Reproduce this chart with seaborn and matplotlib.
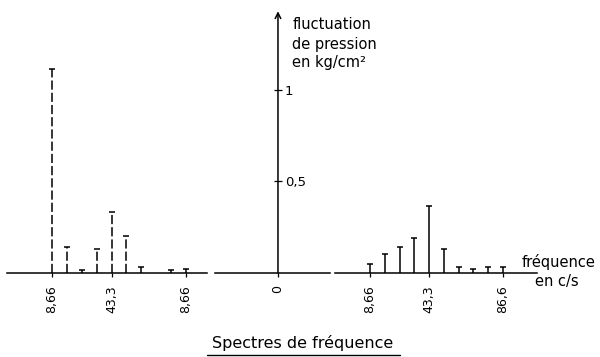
import matplotlib
matplotlib.use("Agg")
import matplotlib.pyplot as plt
import seaborn as sns
import pandas as pd
from matplotlib.lines import Line2D

sns.set_style("white")
plt.rcParams['font.family'] = ['DejaVu Sans']
plt.rcParams['text.color'] = 'black'

# ---- data ----
left_freq = [8.66, 17.32, 25.98, 34.64, 43.3, 51.96, 60.62, 77.94, 86.6]
left_amp = [1.115, 0.143, 0.016, 0.13, 0.335, 0.2, 0.03, 0.015, 0.02]
left_ticks = [8.66, 43.3, 86.6]
left_ticklabels = ["8,66", "43,3", "8,66"]

right_freq = [8.66, 17.32, 25.98, 34.64, 43.3, 51.96, 60.62, 69.28, 77.94, 86.6]
right_amp = [0.05, 0.104, 0.143, 0.19, 0.368, 0.13, 0.03, 0.02, 0.03, 0.035]
right_ticks = [8.66, 43.3, 86.6]
right_ticklabels = ["8,66", "43,3", "86,6"]

y_ticks = [0.5, 1.0]
y_ticklabels = ["0,5", "1"]
center_ticks = [0]
center_ticklabels = ["0"]

fig = plt.figure(figsize=(6, 3.57), dpi=100)
ybot, yh = 0.2097, 0.769
ylim = (-0.05, 1.45)
LW = 1.1


def spectrum_axes(rect, xlim, bounds, freqs, amps, ticks, labels, ls):
    ax = fig.add_axes(rect)
    ax.set_facecolor('none')
    ax.set_xlim(*xlim)
    ax.set_ylim(*ylim)
    for s in ['top', 'right', 'left']:
        ax.spines[s].set_visible(False)
    sp = ax.spines['bottom']
    sp.set_position(('data', 0))
    sp.set_bounds(*bounds)
    sp.set_linewidth(LW)
    sp.set_color('black')
    ax.set_yticks([])
    ax.vlines(freqs, 0, amps, colors='black', linewidth=LW, linestyles=ls)
    df = pd.DataFrame({'f': freqs, 'a': amps})
    sns.scatterplot(data=df, x='f', y='a', marker='_', s=20, color='black',
                    linewidth=LW, ax=ax, legend=False)
    ax.set_xlabel('')
    ax.set_ylabel('')
    ax.set_xticks(ticks)
    ax.set_xticklabels(labels, rotation=90, fontsize=9, color='black')
    ax.tick_params(axis='x', direction='out', length=3, width=0.9, pad=6,
                   bottom=True, colors='black')
    return ax


# left spectrum (dashed)
spectrum_axes([0.0045, ybot, 0.344, yh], (-20, 100), (-17.5, 98.8),
              left_freq, left_amp, left_ticks, left_ticklabels, (0, (6, 2)))

# right spectrum (solid)
spectrum_axes([0.5493, ybot, 0.3555, yh], (-15, 110), (-11.9, 106.5),
              right_freq, right_amp, right_ticks, right_ticklabels, 'solid')

# central axis
axc = fig.add_axes([0.3583, ybot, 0.21, yh])
axc.set_facecolor('none')
axc.set_xlim(-1, 1)
axc.set_ylim(*ylim)
for s in ['top', 'left']:
    axc.spines[s].set_visible(False)
axc.spines['right'].set_position(('data', 0))
axc.spines['right'].set_visible(False)
axc.spines['bottom'].set_position(('data', 0))
axc.spines['bottom'].set_bounds(-1, 0.825)
axc.spines['bottom'].set_linewidth(LW)
axc.spines['bottom'].set_color('black')
axc.yaxis.tick_right()
axc.set_yticks(y_ticks)
axc.set_yticklabels(y_ticklabels, fontsize=9.5, color='black')
axc.tick_params(axis='y', direction='inout', length=6, width=0.9, pad=2,
                right=True, left=False, colors='black')
axc.set_xticks(center_ticks)
axc.set_xticklabels(center_ticklabels, rotation=90, fontsize=9, color='black')
axc.tick_params(axis='x', direction='out', length=3, width=0.9, pad=6,
                bottom=True, colors='black')
axc.annotate('', xy=(0, 1.43), xytext=(0, 0),
             arrowprops=dict(arrowstyle='->', lw=LW, color='black',
                             shrinkA=0, shrinkB=0, mutation_scale=10))

# texts
fig.text(0.487, 0.930, "fluctuation", fontsize=10.5, va='center')
fig.text(0.487, 0.874, "de pression", fontsize=10.5, va='center')
fig.text(0.487, 0.824, "en kg/cm²", fontsize=10.5, va='center')
fig.text(0.870, 0.266, "fréquence", fontsize=10.5, va='center')
fig.text(0.892, 0.212, "en c/s", fontsize=10.5, va='center')
fig.text(0.505, 0.039, "Spectres de fréquence", fontsize=11.5, ha='center', va='center')
fig.add_artist(Line2D([0.345, 0.667], [0.006, 0.006], color='black', lw=1.0))

fig.savefig("out.png", dpi=100)
